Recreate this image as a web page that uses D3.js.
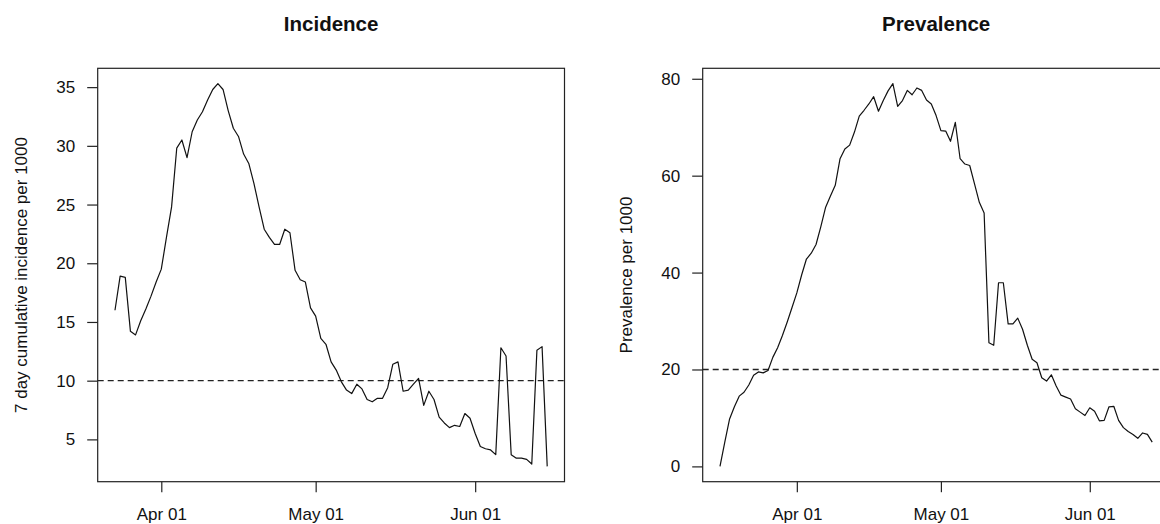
<!DOCTYPE html>
<html>
<head>
<meta charset="utf-8">
<script src="https://cdn.jsdelivr.net/npm/d3@7"></script>
<style>
  body { margin: 0; background: #fff; }
  text { font-family: "Liberation Sans", Arial, Helvetica, sans-serif; fill: #111; }
</style>
</head>
<body>
<svg id="chart"></svg>
<script>
// daily series, one value per day starting at the given date
var incidenceStart = "2020-03-23";
var incidence = [
    16.0, 18.9, 18.8, 14.2, 13.9, 15.1, 16.1, 17.2, 18.4, 19.5,
    22.2, 24.8, 29.8, 30.5, 29.0, 31.2, 32.2, 32.9, 33.9, 34.8,
    35.3, 34.8, 33.0, 31.5, 30.8, 29.3, 28.5, 26.8, 24.8, 22.9,
    22.2, 21.6, 21.6, 22.9, 22.6, 19.4, 18.6, 18.4, 16.2, 15.5,
    13.6, 13.1, 11.6, 10.9, 9.9, 9.2, 8.9, 9.7, 9.3, 8.4,
    8.2, 8.5, 8.5, 9.4, 11.4, 11.6, 9.1, 9.2, 9.7, 10.2,
    7.9, 9.1, 8.4, 6.9, 6.4, 6.0, 6.2, 6.1, 7.2, 6.8,
    5.5, 4.4, 4.2, 4.1, 3.7, 12.8, 12.1, 3.7, 3.4, 3.4,
    3.3, 2.9, 12.6, 12.9, 2.7
];

var prevalenceStart = "2020-03-16";
var prevalence = [
    0.0, 5.0, 9.8, 12.3, 14.5, 15.3, 16.8, 18.8, 19.5, 19.3,
    19.8, 22.5, 24.5, 27.0, 29.8, 32.8, 35.8, 39.5, 42.8, 44.0,
    45.8, 49.5, 53.5, 55.8, 58.0, 63.5, 65.5, 66.3, 69.0, 72.3,
    73.5, 74.8, 76.3, 73.3, 75.5, 77.5, 79.0, 74.3, 75.5, 77.6,
    76.7, 78.1, 77.6, 75.6, 74.8, 72.4, 69.3, 69.2, 67.1, 71.0,
    63.5, 62.4, 62.1, 58.3, 54.5, 52.3, 25.5, 25.0, 37.9, 37.9,
    29.4, 29.4, 30.6, 28.3, 25.0, 22.1, 21.4, 18.3, 17.6, 18.9,
    16.6, 14.7, 14.3, 13.9, 11.9, 11.2, 10.5, 12.1, 11.4, 9.4,
    9.5, 12.3, 12.4, 9.5, 8.0, 7.2, 6.6, 5.8, 6.9, 6.6,
    5.0
];

var incidenceTicks = [5, 10, 15, 20, 25, 30, 35];
var prevalenceTicks = [0, 20, 40, 60, 80];
var dateTicks = ["2020-04-01", "2020-05-01", "2020-06-01"];

var panels = [
    {title: "Incidence", ylab: "7 day cumulative incidence per 1000",
     start: incidenceStart, values: incidence, ticks: incidenceTicks,
     threshold: 10, left: 97.7, right: 564.5},
    {title: "Prevalence", ylab: "Prevalence per 1000",
     start: prevalenceStart, values: prevalence, ticks: prevalenceTicks,
     threshold: 20, left: 702.7, right: 1169.5}
];

var W = 1160, H = 524;
var plotTop = 68.3, plotBottom = 481.7;
var tickLen = 10.5;

var svg = d3.select("#chart").attr("width", W).attr("height", H);
var parse = d3.utcParse("%Y-%m-%d");
var fmt = d3.utcFormat("%b %d");

// R style: pad the data range by 4% each side
function padded(extent) {
    var d = extent[1] - extent[0];
    return [extent[0] - d * 0.04, extent[1] + d * 0.04];
}

panels.forEach(function (p) {
    var t0 = parse(p.start);
    var data = p.values.map(function (v, i) {
        return {date: d3.utcDay.offset(t0, i), value: v};
    });

    var tExt = d3.extent(data, function (d) { return d.date; }).map(Number);
    var x = d3.scaleUtc()
        .domain(padded(tExt).map(function (t) { return new Date(t); }))
        .range([p.left, p.right]);
    var y = d3.scaleLinear()
        .domain(padded(d3.extent(data, function (d) { return d.value; })))
        .range([plotBottom, plotTop]);

    var g = svg.append("g");

    // box
    g.append("rect")
        .attr("x", p.left).attr("y", plotTop)
        .attr("width", p.right - p.left).attr("height", plotBottom - plotTop)
        .attr("fill", "none").attr("stroke", "#222").attr("stroke-width", 1.2);

    // x axis
    var xAxis = d3.axisBottom(x)
        .tickValues(dateTicks.map(parse))
        .tickFormat(fmt)
        .tickSize(tickLen)
        .tickPadding(16);
    var gx = g.append("g")
        .attr("transform", "translate(0," + plotBottom + ")")
        .call(xAxis);
    gx.select(".domain").remove();
    gx.selectAll("line").attr("stroke", "#222").attr("stroke-width", 1.2);
    gx.selectAll("text").attr("font-size", 17).attr("fill", "#111");

    // y axis
    var yAxis = d3.axisLeft(y)
        .tickValues(p.ticks)
        .tickSize(tickLen)
        .tickPadding(12);
    var gy = g.append("g")
        .attr("transform", "translate(" + p.left + ",0)")
        .call(yAxis);
    gy.select(".domain").remove();
    gy.selectAll("line").attr("stroke", "#222").attr("stroke-width", 1.2);
    gy.selectAll("text").attr("font-size", 17).attr("fill", "#111");

    // threshold line
    g.append("line")
        .attr("x1", p.left).attr("x2", p.right)
        .attr("y1", y(p.threshold)).attr("y2", y(p.threshold))
        .attr("stroke", "#222").attr("stroke-width", 1.3)
        .attr("stroke-dasharray", "6,4");

    // series
    var line = d3.line()
        .x(function (d) { return x(d.date); })
        .y(function (d) { return y(d.value); });
    g.append("path")
        .datum(data)
        .attr("d", line)
        .attr("fill", "none")
        .attr("stroke", "#111")
        .attr("stroke-width", 1.2)
        .attr("stroke-linejoin", "round");

    // title
    g.append("text")
        .attr("x", (p.left + p.right) / 2)
        .attr("y", 31)
        .attr("text-anchor", "middle")
        .attr("font-size", 20.5)
        .attr("font-weight", "bold")
        .text(p.title);

    // y label
    var cy = (plotTop + plotBottom) / 2;
    var lx = p.left - 71;
    g.append("text")
        .attr("transform", "translate(" + lx + "," + cy + ") rotate(-90)")
        .attr("text-anchor", "middle")
        .attr("font-size", 17)
        .text(p.ylab);
});
</script>
</body>
</html>
